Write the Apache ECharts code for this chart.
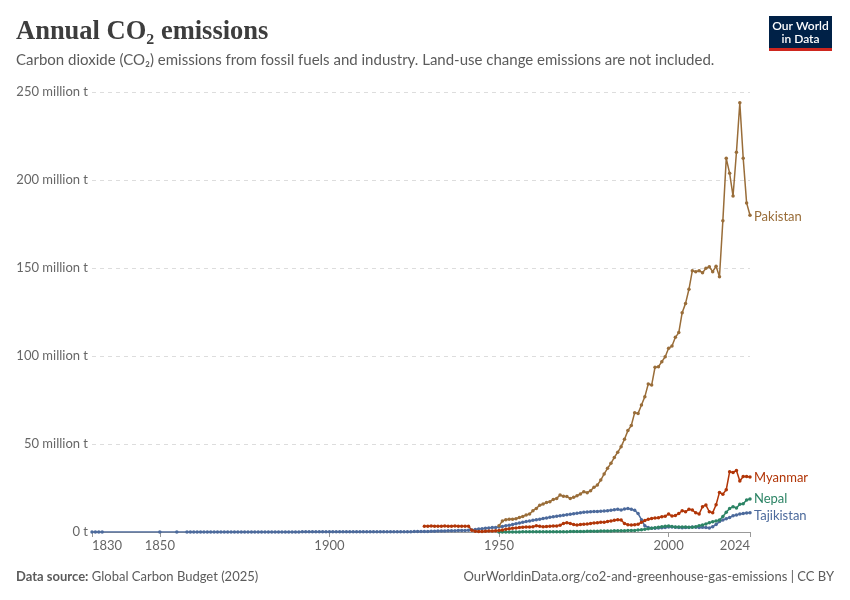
<!DOCTYPE html>
<html>
<head>
<meta charset="utf-8">
<script src="https://cdn.jsdelivr.net/npm/echarts@6/dist/echarts.min.js"></script>
<style>html,body{margin:0;padding:0;background:#fff}#c{width:850px;height:600px}</style>
</head>
<body>
<div id="c"></div>
<script>
// ---- Data (million tonnes CO2) ----
const xTickYears = [1830, 1850, 1900, 1950, 2000, 2024];
const yTickValues = [0, 50, 100, 150, 200, 250];

const pakistanStart = 1950;
const pakistanValues = [
  3.5, 6.3, 7.0, 7.2, 7.3, 7.5, 8.2, 8.8, 9.7, 10.2,
  12.1, 13.4, 15.2, 15.9, 16.7, 17.2, 18.5, 19.1, 21.0, 20.3,
  20.1, 19.1, 19.7, 20.6, 21.6, 22.9, 22.3, 23.5, 25.4, 26.7,
  29.5, 33.0, 36.2, 39.0, 42.4, 45.3, 48.5, 52.7, 57.6, 60.5,
  67.8, 67.4, 72.2, 76.9, 84.1, 83.5, 93.6, 93.9, 96.8, 99.6,
  104.4, 105.7, 110.6, 113.3, 124.6, 129.9, 137.9, 148.5, 147.9, 148.5,
  147.3, 149.8, 150.7, 147.9, 151.0, 145.0, 176.9, 212.3, 203.8, 190.9,
  215.7, 243.9, 212.3, 187.0, 180.0
];

const myanmarStart = 1928;
const myanmarValues = [
  3.3, 3.3, 3.4, 3.3, 3.3, 3.3, 3.4, 3.3, 3.3, 3.4, 3.3, 3.3, 3.3, 3.3,
  1.0, 0.4, 0.3, 0.3, 0.4, 0.5, 0.6, 0.7,
  0.9, 1.2, 1.5, 1.8, 2.1, 2.3, 2.5, 2.7, 2.8, 2.9,
  3.0, 3.6, 3.3, 3.0, 3.1, 3.2, 3.4, 3.4, 3.9, 4.8,
  5.2, 4.8, 4.3, 4.0, 4.2, 4.4, 4.6, 4.9, 5.1, 5.3,
  5.5, 5.6, 5.9, 6.2, 6.7, 7.0, 6.8, 4.8, 4.1, 4.0,
  4.1, 4.4, 5.5, 6.6, 7.2, 7.6, 7.9, 8.1, 8.7, 9.0,
  10.2, 9.1, 9.4, 10.5, 12.1, 11.5, 12.9, 12.5, 10.9, 10.2,
  14.4, 15.3, 11.5, 11.0, 15.5, 22.5, 21.5, 24.0, 34.3, 33.8,
  35.0, 29.0, 31.5, 31.5, 31.3
];

const nepalStart = 1950;
const nepalValues = [
  0.05, 0.05, 0.05, 0.06, 0.06, 0.07, 0.07, 0.08, 0.08, 0.09,
  0.10, 0.11, 0.12, 0.13, 0.14, 0.15, 0.16, 0.17, 0.18, 0.19,
  0.20, 0.22, 0.25, 0.28, 0.30, 0.33, 0.36, 0.40, 0.44, 0.48,
  0.50, 0.53, 0.57, 0.60, 0.65, 0.70, 0.74, 0.78, 0.82, 0.86,
  0.9, 1.1, 1.3, 1.5, 1.8, 2.1, 2.4, 2.7, 3.0, 3.2,
  3.4, 3.1, 2.9, 2.8, 2.8, 2.9, 2.7, 2.7, 3.0, 3.5,
  4.0, 4.6, 5.3, 5.8, 6.3, 6.8, 8.8, 11.2, 13.4, 14.4,
  13.6, 15.8, 16.0, 18.2, 18.8
];

const tajikEarlyYears = [1830, 1831, 1832, 1833, 1850, 1855];
const tajikEarlyValues = [0.01, 0.01, 0.01, 0.01, 0.01, 0.01];
const tajikStart = 1858;
const tajikValues = [
  0.01, 0.01, 0.01, 0.01, 0.01, 0.01, 0.01, 0.02, 0.02, 0.02,
  0.02, 0.02, 0.02, 0.02, 0.03, 0.03, 0.03, 0.03, 0.03, 0.03,
  0.04, 0.04, 0.04, 0.04, 0.05, 0.05, 0.05, 0.05, 0.06, 0.06,
  0.06, 0.07, 0.07, 0.07, 0.08, 0.08, 0.08, 0.09, 0.09, 0.09,
  0.10, 0.10,
  0.10, 0.11, 0.11, 0.12, 0.12, 0.13, 0.13, 0.14, 0.14, 0.15,
  0.15, 0.16, 0.16, 0.17, 0.15, 0.12, 0.12, 0.13, 0.14, 0.15,
  0.16, 0.17, 0.18, 0.19, 0.20, 0.22, 0.25, 0.28, 0.31, 0.35,
  0.40, 0.45, 0.50, 0.55, 0.60, 0.65, 0.70, 0.75, 0.80, 0.85,
  0.90,
  1.0, 1.2, 1.4, 1.7, 1.9, 2.1, 2.3, 2.5, 2.6,
  2.8, 3.1, 3.5, 3.9, 4.3, 4.7, 5.1, 5.5, 5.9, 6.3,
  6.7, 7.0, 7.3, 7.7, 8.0, 8.4, 8.7, 8.9, 9.2, 9.5,
  9.8, 10.1, 10.4, 10.7, 11.0, 11.2, 11.4, 11.5, 11.6, 11.7,
  11.8, 11.9, 12.1, 12.3, 12.6, 12.9, 12.5, 13.1, 13.3, 12.9,
  12.4, 10.5, 7.0, 3.5, 2.6, 2.2, 2.2, 2.3, 2.4, 2.6,
  2.8, 2.8, 2.7, 2.6, 2.4, 2.5, 2.6, 2.8, 2.7, 2.6,
  2.7, 2.6, 2.3, 3.0, 4.2, 5.9, 6.8, 7.5, 8.3, 9.2,
  9.7, 10.2, 10.5, 10.8, 10.9
];

// ---- Build series pairs ----
function pairs(start, vals) { return vals.map((v, i) => [start + i, v * 1e6]); }
const tajikData = tajikEarlyYears.map((y, i) => [y, tajikEarlyValues[i] * 1e6]).concat(pairs(tajikStart, tajikValues));

const seriesDefs = [
  { name: 'Tajikistan', color: '#4c6a9c', data: tajikData, dy: 3 },
  { name: 'Nepal', color: '#2c8465', data: pairs(nepalStart, nepalValues), dy: 0 },
  { name: 'Myanmar', color: '#b13507', data: pairs(myanmarStart, myanmarValues), dy: 1 },
  { name: 'Pakistan', color: '#996d39', data: pairs(pakistanStart, pakistanValues), dy: 1.5 }
];

const chart = echarts.init(document.getElementById('c'), null, { renderer: 'canvas' });
const font = 'Lato, "Noto Sans", sans-serif';

chart.setOption({
  animation: false,
  backgroundColor: '#fff',
  textStyle: { fontFamily: font },
  grid: { left: 92, right: 100, top: 92, bottom: 68, containLabel: false },
  xAxis: {
    type: 'value', min: 1830, max: 2024,
    axisLine: { show: true, lineStyle: { color: '#999', width: 1 } },
    axisTick: { show: true, length: 5, lineStyle: { color: '#999' }, customValues: xTickYears },
    axisLabel: {
      customValues: xTickYears, color: '#666', fontSize: 13, fontFamily: font, margin: 7,
      alignMinLabel: 'left', alignMaxLabel: 'right',
      formatter: v => String(v)
    },
    splitLine: { show: false }
  },
  yAxis: {
    type: 'value', min: 0, max: 250e6, interval: 50e6,
    axisLine: { show: false }, axisTick: { show: false },
    axisLabel: {
      color: '#666', fontSize: 13, fontFamily: font, margin: 4,
      formatter: v => v === 0 ? '0 t' : (v / 1e6) + ' million t'
    },
    splitLine: { show: true, lineStyle: { color: '#dddddd', type: [4, 4], width: 1 } }
  },
  series: seriesDefs.map(s => ({
    name: s.name, type: 'line', data: s.data,
    symbol: 'circle', symbolSize: 3.5, showAllSymbol: true,
    lineStyle: { color: s.color, width: 1.5 },
    itemStyle: { color: s.color },
    emphasis: { disabled: true },
    endLabel: { show: true, formatter: s.name, color: s.color, fontSize: 13, fontFamily: font, distance: 4, offset: [0, s.dy] }
  })),
  graphic: [
    { type: 'text', left: 16, top: 19, style: { text: 'Annual CO₂ emissions', font: 'bold 26.5px "Liberation Serif", "DejaVu Serif", serif', fill: '#3d3d3d' } },
    { type: 'text', left: 16, top: 53, style: { text: 'Carbon dioxide (CO₂) emissions from fossil fuels and industry. Land-use change emissions are not included.', font: '15px Lato, sans-serif', fill: '#5b5b5b' } },
    { type: 'group', left: 769, top: 16, children: [
      { type: 'rect', shape: { x: 0, y: 0, width: 63, height: 35 }, style: { fill: '#002147' } },
      { type: 'rect', shape: { x: 0, y: 32, width: 63, height: 3 }, style: { fill: '#ce261e' } },
      { type: 'text', x: 31.5, y: 3.5, style: { text: 'Our World\nin Data', font: '600 12px Lato, sans-serif', fill: '#fff', align: 'center', lineHeight: 13 } }
    ] },
    { type: 'text', left: 16, top: 570, style: { text: '{b|Data source:} Global Carbon Budget (2025)', rich: { b: { fontWeight: 'bold', fontSize: 13, fontFamily: 'Lato', fill: '#5b5b5b' } }, font: '13px Lato, sans-serif', fill: '#5b5b5b' } },
    { type: 'text', right: 16, top: 570, style: { text: 'OurWorldinData.org/co2-and-greenhouse-gas-emissions | CC BY', font: '13px Lato, sans-serif', fill: '#5b5b5b' } }
  ]
});
</script>
</body>
</html>
